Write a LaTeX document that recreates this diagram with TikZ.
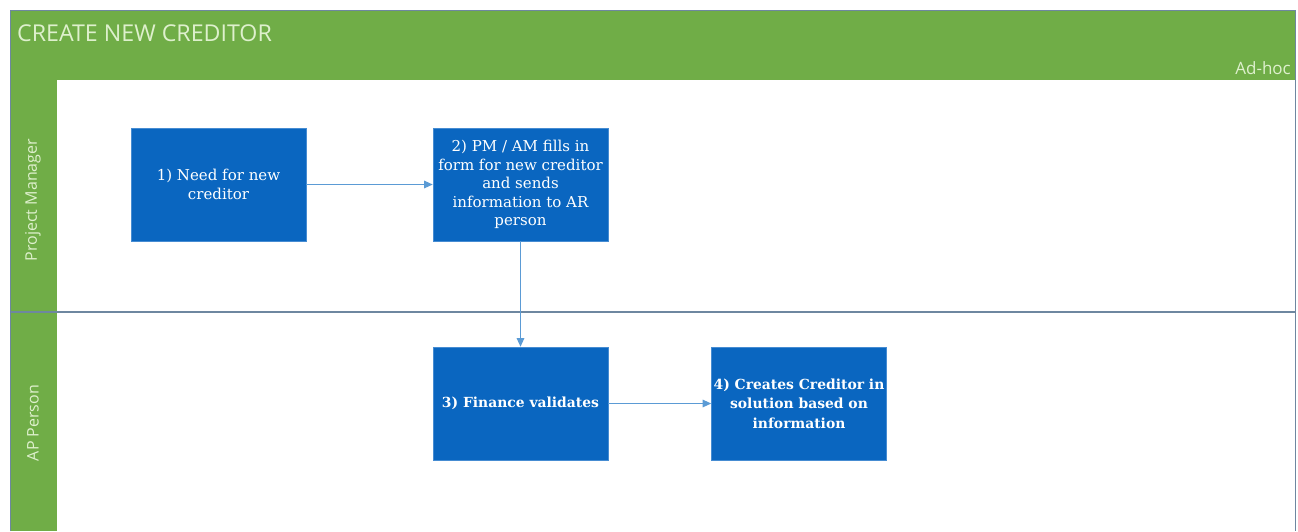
\documentclass[tikz,border=0pt]{standalone}
\usepackage{fontspec}
\setmainfont{Open Sans}
\newfontfamily\boxfont{DejaVu Serif}
\usetikzlibrary{arrows.meta}
\definecolor{lanegreen}{RGB}{112,173,71}
\definecolor{palegreen}{RGB}{222,240,205}
\definecolor{stepblue}{RGB}{10,102,192}
\definecolor{stepedge}{RGB}{70,140,210}
\definecolor{flowblue}{RGB}{91,155,213}
\definecolor{frameline}{RGB}{110,135,160}
\tikzset{
  stepbox/.style={fill=stepblue, draw=stepedge, line width=0.6pt,
    minimum width=175pt, minimum height=113pt, inner sep=2pt,
    text=white, align=center},
  plainstep/.style={stepbox, font=\boxfont\fontsize{15}{18.6}\selectfont},
  boldstep/.style={stepbox, font=\boxfont\bfseries\fontsize{13.9}{19.4}\selectfont},
  flow/.style={draw=flowblue, line width=1.1pt, -{Triangle[width=7.5pt,length=8.5pt]}},
  lanelabel/.style={rotate=90, text=palegreen, font=\fontsize{16}{19}\selectfont}
}
\begin{document}
\begin{tikzpicture}[x=1pt,y=-1pt]
\useasboundingbox (0,0) rectangle (1298,531);
\fill[white] (0,0) rectangle (1298,531);
% pool header and lane header column
\fill[lanegreen] (10,10) rectangle (1295,80);
\fill[lanegreen] (10,80) rectangle (57,531);
% frame and lane divider
\draw[frameline, line width=0.8pt] (10,531) -- (10,10) -- (1295,10) -- (1295,531);
\draw[frameline, line width=1.2pt] (10,312) -- (1295,312);
% titles
\node[anchor=west, text=palegreen, font=\fontsize{23.2}{27}\selectfont, inner sep=0pt] (title) at (17,33) {CREATE NEW CREDITOR};
\node[anchor=east, text=palegreen, font=\fontsize{17}{20}\selectfont, inner sep=0pt] (freq) at (1291,68) {Ad-hoc};
\node[lanelabel] (lanepm) at (33,200) {Project Manager};
\node[lanelabel] (laneap) at (33,423) {AP Person};
% process steps
\node[plainstep] (s1) at (218.5,184.5) {1) Need for new\\creditor};
\node[plainstep] (s2) at (520.5,184.5) {2) PM / AM fills in\\form for new creditor\\and sends\\information to AR\\person};
\node[boldstep] (s3) at (520.5,403.5) {3) Finance validates};
\node[boldstep] (s4) at (799,403.5) {4) Creates Creditor in\\solution based on\\information};
% flow
\draw[flow] (s1) -- (s2);
\draw[flow] (s2) -- (s3);
\draw[flow] (s3) -- (s4);
\end{tikzpicture}
\end{document}
